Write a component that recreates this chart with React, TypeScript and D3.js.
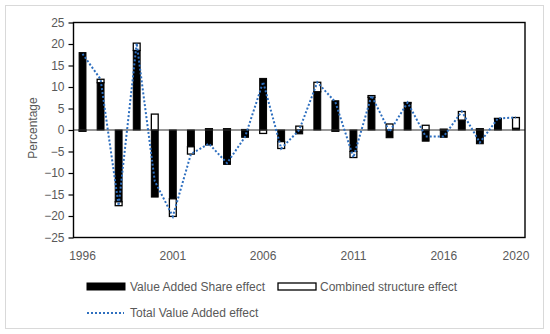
import React, { useRef, useEffect } from 'react'
import * as d3 from 'd3'

const years = [1996, 1997, 1998, 1999, 2000, 2001, 2002, 2003, 2004, 2005, 2006, 2007, 2008,
    2009, 2010, 2011, 2012, 2013, 2014, 2015, 2016, 2017, 2018, 2019, 2020]

// Value Added Share effect (black bars)
const shareEffect = [18.0, 11.0, -16.7, 18.5, -15.6, -16.0, -3.9, -3.5, -8.0, -1.7, 12.0, -2.7, -0.9,
    8.9, 6.8, -5.0, 7.6, -1.8, 6.3, -2.6, -1.7, 2.3, -3.2, 2.6, 0.4]

// Combined structure effect (white bars)
const structureEffect = [-0.3, 0.8, -0.9, 1.7, 3.7, -4.1, -1.7, 0.3, 0.3, 0.1, -0.8, -1.6, 0.9,
    2.2, -0.3, -1.4, 0.4, 1.4, 0.1, 1.1, 0.2, 2.0, 0.3, 0.1, 2.5]

// Total Value Added effect (dotted line)
const totalEffect = [17.7, 11.8, -17.6, 20.2, -11.9, -20.1, -5.6, -3.2, -7.7, -1.6, 11.2, -4.3, 0.0,
    11.1, 6.5, -6.4, 8.0, -0.4, 6.4, -1.5, -1.5, 4.3, -2.9, 2.7, 2.9]

const yTicks = [-25, -20, -15, -10, -5, 0, 5, 10, 15, 20, 25]
const xTickYears = [1996, 2001, 2006, 2011, 2016, 2020]

const W = 550
const H = 334
const textColor = '#595959'
const lineColor = '#2e6fbf'
const font = '"Liberation Sans", Arial, sans-serif'

const App = () => {
    const chartRef = useRef<SVGSVGElement | null>(null)

    useEffect(() => {
        const svg = d3.select(chartRef.current)
        svg.selectAll('*').remove()

        const plot = { left: 73.5, right: 525, top: 22.5, bottom: 237.5 }

        const x = d3.scaleBand<number>()
            .domain(years)
            .range([plot.left, plot.right])
            .paddingInner(0.62)
            .paddingOuter(0.31)

        const y = d3.scaleLinear()
            .domain([-25, 25])
            .range([plot.bottom, plot.top])

        const cx = (yr: number) => (x(yr) as number) + x.bandwidth() / 2

        // outer frame
        svg.append('rect')
            .attr('x', 5.5).attr('y', 5.5)
            .attr('width', 538).attr('height', 323)
            .attr('fill', 'white')
            .attr('stroke', '#d9d9d9')

        // stack positives up and negatives down, like Excel does
        const black: { yr: number, y0: number, y1: number }[] = []
        const white: { yr: number, y0: number, y1: number }[] = []
        years.forEach((yr, i) => {
            let pos = 0
            let neg = 0
            const a = shareEffect[i]
            if (a >= 0) { black.push({ yr, y0: 0, y1: a }); pos = a }
            else { black.push({ yr, y0: a, y1: 0 }); neg = a }
            const b = structureEffect[i]
            if (b >= 0) white.push({ yr, y0: pos, y1: pos + b })
            else white.push({ yr, y0: neg + b, y1: neg })
        })

        svg.append('g')
            .selectAll('rect')
            .data(black)
            .enter()
            .append('rect')
            .attr('x', d => x(d.yr) as number)
            .attr('width', x.bandwidth())
            .attr('y', d => y(d.y1))
            .attr('height', d => y(d.y0) - y(d.y1))
            .attr('fill', '#000')
            .attr('stroke', '#000')
            .attr('stroke-width', 1)

        svg.append('g')
            .selectAll('rect')
            .data(white.filter(d => d.y1 - d.y0 > 0))
            .enter()
            .append('rect')
            .attr('x', d => x(d.yr) as number)
            .attr('width', x.bandwidth())
            .attr('y', d => y(d.y1))
            .attr('height', d => y(d.y0) - y(d.y1))
            .attr('fill', '#fff')
            .attr('stroke', '#000')
            .attr('stroke-width', 1.3)

        // zero line
        svg.append('line')
            .attr('x1', plot.left).attr('x2', plot.right)
            .attr('y1', y(0)).attr('y2', y(0))
            .attr('stroke', '#333')
            .attr('stroke-width', 1.2)

        // total line
        const line = d3.line<number>()
            .x((d, i) => cx(years[i]))
            .y(d => y(d))

        svg.append('path')
            .datum(totalEffect)
            .attr('d', line)
            .attr('fill', 'none')
            .attr('stroke', lineColor)
            .attr('stroke-width', 2)
            .attr('stroke-dasharray', '2 2')

        // plot border
        svg.append('rect')
            .attr('x', plot.left).attr('y', plot.top)
            .attr('width', plot.right - plot.left)
            .attr('height', plot.bottom - plot.top)
            .attr('fill', 'none')
            .attr('stroke', '#000')
            .attr('stroke-width', 1.4)

        // y axis
        const yAxis = svg.append('g')
            .attr('transform', `translate(${plot.left},0)`)
            .call(d3.axisLeft(y).tickValues(yTicks).tickSize(5).tickPadding(4).tickFormat(d3.format('d')))
        yAxis.select('.domain').remove()
        yAxis.selectAll('line').attr('stroke', '#000').attr('stroke-width', 1.2)
        yAxis.selectAll('text')
            .attr('fill', textColor)
            .style('font-family', font)
            .style('font-size', '12px')

        // x labels
        svg.append('g')
            .selectAll('text')
            .data(xTickYears)
            .enter()
            .append('text')
            .attr('x', d => cx(d))
            .attr('y', 256)
            .attr('dy', '0.35em')
            .attr('text-anchor', 'middle')
            .attr('fill', textColor)
            .style('font-family', font)
            .style('font-size', '12px')
            .text(d => d)

        // y title
        svg.append('text')
            .attr('transform', `translate(33,128) rotate(-90)`)
            .attr('text-anchor', 'middle')
            .attr('dy', '0.35em')
            .attr('fill', textColor)
            .style('font-family', font)
            .style('font-size', '12px')
            .text('Percentage')

        // legend
        const legend = svg.append('g')
        legend.append('rect')
            .attr('x', 87).attr('y', 283).attr('width', 38).attr('height', 7)
            .attr('fill', '#000').attr('stroke', '#000')
        legend.append('text')
            .attr('x', 130).attr('y', 286.5).attr('dy', '0.35em')
            .attr('fill', textColor)
            .style('font-family', font).style('font-size', '12px')
            .text('Value Added Share effect')
        legend.append('rect')
            .attr('x', 278).attr('y', 283).attr('width', 38).attr('height', 7)
            .attr('fill', '#fff').attr('stroke', '#000').attr('stroke-width', 1.3)
        legend.append('text')
            .attr('x', 320).attr('y', 286.5).attr('dy', '0.35em')
            .attr('fill', textColor)
            .style('font-family', font).style('font-size', '12px')
            .text('Combined structure effect')
        legend.append('line')
            .attr('x1', 87).attr('x2', 124).attr('y1', 313).attr('y2', 313)
            .attr('stroke', lineColor).attr('stroke-width', 2).attr('stroke-dasharray', '2 2')
        legend.append('text')
            .attr('x', 130).attr('y', 313).attr('dy', '0.35em')
            .attr('fill', textColor)
            .style('font-family', font).style('font-size', '12px')
            .text('Total Value Added effect')
    }, [])

    return (
        <svg ref={chartRef} width={W} height={H}
            style={{ position: 'absolute', left: 0, top: 0, display: 'block' }} />
    )
}

export default App
